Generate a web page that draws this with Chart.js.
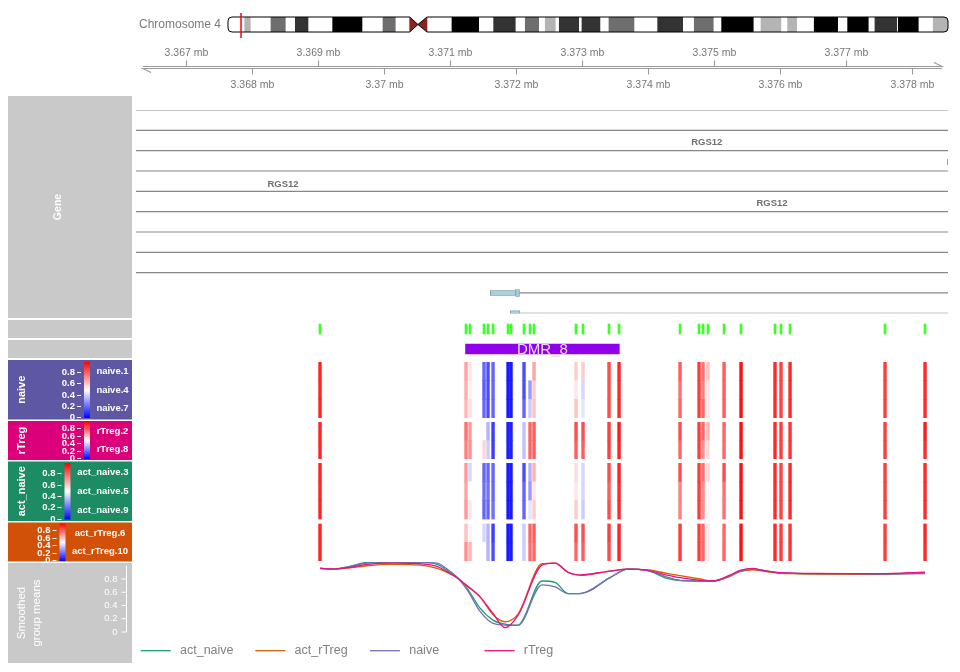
<!DOCTYPE html>
<html>
<head>
<meta charset="utf-8">
<title>DMR_8 RGS12</title>
<script src="https://cdn.jsdelivr.net/npm/chart.js@4.4.1/dist/chart.umd.min.js"></script>
<style>
html,body{margin:0;padding:0;background:#ffffff;}
#wrap{position:relative;width:960px;height:672px;overflow:hidden;background:#fff;}
#wrap canvas{position:absolute;left:0;display:block;}
</style>
</head>
<body>
<div id="wrap"></div>
<script>
// ================= DATA =================
const chromName = 'Chromosome 4';
const chromLengthMb = 191.154;
const bandStartMb = [0, 4.43, 5.92, 11.41, 15.21, 17.87, 21.24, 27.79, 35.57, 41.15, 44.41, 48.23, 50.43, 52.83, 59.46, 66.55, 70.53, 76.27, 78.92, 82.48, 84.23, 86.89, 87.95, 93.1, 93.98, 98.75, 101.14, 107.78, 114.07, 120.71, 123.79, 128.83, 131.06, 139.45, 141.5, 146.8, 148.58, 150.97, 155.64, 161.86, 164.51, 169.98, 171.76, 177.52, 177.95, 183.26, 187.23];
const bandStain = ['gneg','gpos25','gneg','gpos50','gneg','gpos75','gneg','gpos100','gneg','gpos50','gneg','acen','acen','gneg','gpos100','gneg','gpos75','gneg','gpos50','gneg','gpos25','gneg','gpos75','gneg','gpos75','gneg','gpos50','gneg','gpos75','gneg','gpos50','gneg','gpos100','gneg','gpos25','gneg','gpos25','gneg','gpos100','gneg','gpos100','gneg','gpos75','gneg','gpos100','gneg','gpos25'];
const bandEndMb = bandStartMb.slice(1).concat([chromLengthMb]);
const regionMb = [3.36624, 3.37855];

const viewFrom = 3366242, viewTo = 3378545;
const axisTicks = [3367000, 3368000, 3369000, 3370000, 3371000, 3372000, 3373000, 3374000, 3375000, 3376000, 3377000, 3378000];

// gene model (RGS12 transcripts)
const txRow   = [0, 1, 2, 3, 4, 5, 6, 7, 8, 9, 10];
const txStart = [3318000, 3318000, 3318000, 3318000, 3318000, 3318000, 3318000, 3318000, 3318000, 3371606, 3371909];
const txEnd   = [3441000, 3441000, 3441000, 3441000, 3441000, 3441000, 3441000, 3441000, 3441000, 3441000, 3441000];
const exonRow   = [9, 9, 10];
const exonStart = [3371606, 3371990, 3371909];
const exonEnd   = [3372000, 3372056, 3372061];
const exonType  = ['utr', 'cds', 'utr'];
const geneLabels   = ['RGS12', 'RGS12', 'RGS12', 'RGS12'];
const geneLabelPos = [3374889, 3378763, 3368470, 3375879];
const geneLabelRow = [1.6, 2.6, 3.65, 4.6];

// CpG sites
const cpgPos = [3369030, 3371242, 3371303, 3371515, 3371576, 3371652, 3371879, 3371924, 3372121, 3372212, 3372273, 3372909, 3373015, 3373409, 3373561, 3374485, 3374773, 3374833, 3374909, 3375152, 3375409, 3375924, 3376015, 3376152, 3377591, 3378197];

// DMR
const dmrName = 'DMR_8';
const dmrRange = [3371235, 3373565];

// methylation per sample (one value per CpG site)
const naiveSamples = ['naive.1', 'naive.4', 'naive.7'];
const meth_naive_1 = [0.93,0.68,0.55,0.20,0.15,0.20,0.05,0.05,0.15,0.50,0.68,0.60,0.60,0.85,0.92,0.82,0.88,0.78,0.62,0.82,0.97,0.92,0.87,0.92,0.88,0.92];
const meth_naive_4 = [0.93,0.66,0.53,0.18,0.15,0.20,0.05,0.05,0.15,0.30,0.60,0.55,0.42,0.85,0.92,0.78,0.88,0.75,0.55,0.82,0.97,0.92,0.87,0.92,0.88,0.92];
const meth_naive_7 = [0.93,0.64,0.56,0.20,0.15,0.20,0.05,0.05,0.20,0.40,0.62,0.62,0.45,0.85,0.92,0.80,0.88,0.80,0.55,0.82,0.97,0.92,0.87,0.92,0.88,0.92];
const rTregSamples = ['rTreg.2', 'rTreg.8'];
const meth_rTreg_2 = [0.93,0.78,0.70,0.50,0.35,0.12,0.06,0.06,0.38,0.80,0.82,0.85,0.85,0.88,0.95,0.85,0.88,0.80,0.65,0.80,0.97,0.92,0.88,0.90,0.88,0.95];
const meth_rTreg_8 = [0.93,0.75,0.72,0.58,0.40,0.12,0.06,0.06,0.38,0.80,0.82,0.82,0.82,0.88,0.93,0.80,0.88,0.72,0.57,0.80,0.97,0.92,0.88,0.90,0.88,0.92];
const actNaiveSamples = ['act_naive.3', 'act_naive.5', 'act_naive.9'];
const meth_act_naive_3 = [0.93,0.70,0.42,0.20,0.20,0.20,0.05,0.05,0.15,0.35,0.65,0.57,0.42,0.85,0.93,0.85,0.88,0.78,0.58,0.85,0.97,0.92,0.87,0.92,0.88,0.92];
const meth_act_naive_5 = [0.93,0.68,0.50,0.22,0.22,0.20,0.05,0.05,0.20,0.30,0.55,0.55,0.42,0.82,0.92,0.75,0.88,0.72,0.52,0.78,0.97,0.92,0.87,0.92,0.88,0.92];
const meth_act_naive_9 = [0.93,0.70,0.55,0.20,0.20,0.22,0.05,0.05,0.20,0.45,0.60,0.60,0.40,0.85,0.92,0.75,0.88,0.72,0.52,0.78,0.97,0.92,0.87,0.92,0.88,0.92];
const actRTregSamples = ['act_rTreg.6', 'act_rTreg.10'];
const meth_act_rTreg_6  = [0.93,0.62,0.52,0.42,0.35,0.12,0.05,0.05,0.40,0.80,0.82,0.85,0.85,0.88,0.93,0.88,0.88,0.80,0.55,0.80,0.97,0.92,0.88,0.90,0.88,0.93];
const meth_act_rTreg_10 = [0.93,0.72,0.65,0.50,0.35,0.15,0.05,0.05,0.40,0.78,0.80,0.80,0.82,0.85,0.93,0.88,0.88,0.80,0.55,0.80,0.97,0.92,0.88,0.90,0.88,0.92];
const colorbarTicks = [0, 0.2, 0.4, 0.6, 0.8];

// smoothed group means
const smoothGroups = ['act_naive', 'act_rTreg', 'naive', 'rTreg'];
const smoothPos = [3369030, 3369227, 3369485, 3369742, 3370136, 3370545, 3370803, 3370955, 3371106, 3371258, 3371455, 3371652, 3371833, 3372030, 3372394, 3372591, 3372788, 3372970, 3373424, 3373697, 3373985, 3374288, 3374485, 3374788, 3374985, 3375242, 3375394, 3375591, 3375742, 3375955, 3376197, 3376500, 3377106, 3377515, 3378197];
const smooth_act_naive = [0.96,0.95,0.99,1.05,1.05,1.05,1.02,0.93,0.82,0.66,0.36,0.18,0.12,0.105,0.77,0.75,0.58,0.58,0.82,0.95,0.93,0.81,0.775,0.77,0.77,0.85,0.92,0.95,0.93,0.895,0.885,0.88,0.88,0.875,0.89];
const smooth_act_rTreg = [0.96,0.95,0.97,1.00,1.02,1.01,0.96,0.90,0.82,0.69,0.53,0.26,0.155,0.27,1.03,1.04,0.90,0.86,0.92,0.95,0.94,0.885,0.85,0.80,0.77,0.84,0.91,0.94,0.92,0.89,0.88,0.875,0.87,0.87,0.90];
const smooth_naive     = [0.96,0.95,0.99,1.04,1.05,1.05,1.04,0.95,0.83,0.64,0.31,0.13,0.105,0.10,0.71,0.68,0.58,0.58,0.82,0.95,0.93,0.83,0.78,0.77,0.77,0.85,0.92,0.95,0.93,0.895,0.885,0.88,0.88,0.875,0.88];
const smooth_rTreg     = [0.96,0.95,0.975,1.02,1.04,1.03,0.99,0.91,0.82,0.70,0.53,0.28,0.065,0.25,1.01,1.04,0.90,0.86,0.92,0.95,0.93,0.86,0.82,0.78,0.77,0.86,0.93,0.96,0.93,0.90,0.89,0.885,0.88,0.88,0.905];
const smoothTicks = [0, 0.2, 0.4, 0.6, 0.8];

// ================= STYLE / HELPERS =================
const FONT = '"Liberation Sans", Arial, Helvetica, sans-serif';
const GREY_PANEL = '#c9c9c9';
const groupColor = {act_naive: '#1b9e77', act_rTreg: '#d95f02', naive: '#7570b3', rTreg: '#e8108a'};
const stainColor = {gpos25: '#b4b4b4', gpos50: '#6e6e6e', gpos75: '#333333', gpos100: '#000000', acen: '#8b2323'};
const wrap = document.getElementById('wrap');
Chart.defaults.font.family = FONT;

function addChart(top, height, config) {
  const cv = document.createElement('canvas');
  cv.width = 960; cv.height = height;
  cv.style.top = top + 'px';
  cv.style.width = '960px'; cv.style.height = height + 'px';
  wrap.appendChild(cv);
  const o = config.options || {};
  o.responsive = false; o.maintainAspectRatio = false; o.animation = false;
  o.devicePixelRatio = 1; o.events = [];
  o.plugins = Object.assign({legend: {display: false}, tooltip: {enabled: false}}, o.plugins || {});
  config.options = o;
  return new Chart(cv.getContext('2d'), config);
}
function fillPanel(ctx, color, x0, y0, x1, y1) {
  ctx.save(); ctx.fillStyle = color; ctx.fillRect(x0, y0, x1 - x0, y1 - y0); ctx.restore();
}
function vText(ctx, text, x, y, font, color) {
  ctx.save(); ctx.translate(x, y); ctx.rotate(-Math.PI / 2);
  ctx.font = font; ctx.fillStyle = color; ctx.textAlign = 'center'; ctx.textBaseline = 'middle';
  ctx.fillText(text, 0, 0); ctx.restore();
}
function methColor(v) {
  v = Math.max(0, Math.min(1, v));
  let r, g, b;
  if (v < 0.5) { const t = v / 0.5; r = Math.round(255 * t); g = r; b = 255; }
  else { const t = (v - 0.5) / 0.5; r = 255; g = Math.round(255 * (1 - t)); b = g; }
  return 'rgb(' + r + ',' + g + ',' + b + ')';
}
const xGenome = {type: 'linear', min: viewFrom, max: viewTo, display: false, offset: false};
const PAD_L = 136, PAD_R = 12;

// ================= 1. IDEOGRAM =================
function ideoPath(chart) {
  const ctx = chart.ctx, xs = chart.scales.x, ca = chart.chartArea;
  const x0 = xs.getPixelForValue(0), x1 = xs.getPixelForValue(chromLengthMb);
  let cL = null, cR = null;
  bandStain.forEach((s, i) => { if (s === 'acen') { if (cL === null) cL = bandStartMb[i]; cR = bandEndMb[i]; } });
  const cM = bandEndMb[bandStain.indexOf('acen')];
  const pL = xs.getPixelForValue(cL), pR = xs.getPixelForValue(cR), pM = xs.getPixelForValue(cM);
  const t = ca.top, b = ca.bottom, m = (t + b) / 2, r = 4;
  ctx.beginPath();
  ctx.moveTo(x0 + r, t); ctx.lineTo(pL, t); ctx.lineTo(pM, m); ctx.lineTo(pR, t);
  ctx.lineTo(x1 - r, t); ctx.arcTo(x1, t, x1, t + r, r); ctx.lineTo(x1, b - r); ctx.arcTo(x1, b, x1 - r, b, r);
  ctx.lineTo(pR, b); ctx.lineTo(pM, m); ctx.lineTo(pL, b);
  ctx.lineTo(x0 + r, b); ctx.arcTo(x0, b, x0, b - r, r); ctx.lineTo(x0, t + r); ctx.arcTo(x0, t, x0 + r, t, r);
  ctx.closePath();
}
const ideoPlugin = {
  id: 'ideo',
  beforeDatasetsDraw(chart) {
    const ctx = chart.ctx; ctx.save(); ideoPath(chart); ctx.fillStyle = '#ffffff'; ctx.fill(); ctx.clip();
  },
  afterDatasetsDraw(chart) {
    const ctx = chart.ctx, xs = chart.scales.x, ca = chart.chartArea;
    ctx.restore();
    ctx.save();
    ideoPath(chart); ctx.strokeStyle = '#000000'; ctx.lineWidth = 1; ctx.stroke();
    const a = xs.getPixelForValue(regionMb[0]), b = xs.getPixelForValue(regionMb[1]);
    ctx.fillStyle = '#ff0000';
    ctx.fillRect(a - 0.4, ca.top - 4, Math.max(1.5, b - a), (ca.bottom - ca.top) + 10);
    ctx.font = '12px ' + FONT; ctx.fillStyle = '#7a7a7a'; ctx.textAlign = 'right'; ctx.textBaseline = 'middle';
    ctx.fillText(chromName, 221, (ca.top + ca.bottom) / 2);
    ctx.restore();
  }
};
const ideoDatasets = [];
bandStain.forEach((s, i) => {
  if (s === 'gneg') return;
  ideoDatasets.push({data: [[bandStartMb[i], bandEndMb[i]]], backgroundColor: stainColor[s], borderWidth: 0});
});
addChart(0, 42, {
  type: 'bar',
  data: {labels: ['chr4'], datasets: ideoDatasets},
  options: {
    indexAxis: 'y',
    layout: {padding: {left: 228, right: 12, top: 17, bottom: 10}},
    datasets: {bar: {grouped: false, barPercentage: 1, categoryPercentage: 1}},
    scales: {x: {type: 'linear', min: 0, max: chromLengthMb, display: false}, y: {display: false}}
  },
  plugins: [ideoPlugin]
});

// ================= 2. GENOME AXIS =================
const axisPlugin = {
  id: 'gaxis',
  afterDraw(chart) {
    const ctx = chart.ctx, xs = chart.scales.x, ca = chart.chartArea;
    const yA = 24.5, yB = 26.5;
    ctx.save();
    ctx.strokeStyle = '#9a9a9a'; ctx.lineWidth = 1.1;
    const l = ca.left + 7, r = ca.right - 6;
    ctx.beginPath();
    ctx.moveTo(l, yA); ctx.lineTo(r, yA); ctx.lineTo(r - 8, yA - 4);
    ctx.moveTo(r, yB); ctx.lineTo(l, yB); ctx.lineTo(l + 8, yB + 4);
    ctx.stroke();
    ctx.font = '10.5px ' + FONT; ctx.fillStyle = '#777777'; ctx.textAlign = 'center'; ctx.textBaseline = 'middle';
    axisTicks.forEach(v => {
      const px = Math.round(xs.getPixelForValue(v)) + 0.5;
      const lab = (+(v / 1e6).toFixed(3)) + ' mb';
      const odd = Math.round(v / 1000) % 2 === 1;
      ctx.beginPath();
      if (odd) { ctx.moveTo(px, yA); ctx.lineTo(px, yA - 6); ctx.stroke(); ctx.fillText(lab, px, 11.5); }
      else { ctx.moveTo(px, yB); ctx.lineTo(px, yB + 6); ctx.stroke(); ctx.fillText(lab, px, 43); }
    });
    ctx.restore();
  }
};
addChart(42, 54, {
  type: 'scatter',
  data: {datasets: []},
  options: {layout: {padding: {left: PAD_L, right: PAD_R, top: 0, bottom: 0}}, scales: {x: xGenome, y: {display: false, min: 0, max: 1}}},
  plugins: [axisPlugin]
});

// ================= 3. GENE TRACK =================
const genePlugin = {
  id: 'gene',
  beforeDraw(chart) {
    const ctx = chart.ctx;
    fillPanel(ctx, GREY_PANEL, 8, 0, 132, 222);
    vText(ctx, 'Gene', 58, 111, 'bold 10.5px ' + FONT, '#ffffff');
  },
  afterDatasetsDraw(chart) {
    const ctx = chart.ctx, xs = chart.scales.x, ys = chart.scales.y, ca = chart.chartArea;
    ctx.save();
    ctx.beginPath(); ctx.rect(ca.left, 0, ca.right - ca.left, chart.height); ctx.clip();
    ctx.font = 'bold 9.5px ' + FONT; ctx.fillStyle = '#6f6f6f'; ctx.textAlign = 'center'; ctx.textBaseline = 'middle';
    geneLabels.forEach((t, i) => ctx.fillText(t, xs.getPixelForValue(geneLabelPos[i]), ys.getPixelForValue(geneLabelRow[i])));
    ctx.restore();
  }
};
const geneDatasets = [];
txRow.forEach((row, i) => geneDatasets.push({
  data: [{x: txStart[i], y: row}, {x: txEnd[i], y: row}], borderColor: '#878787', borderWidth: 1.2, pointRadius: 0, order: 3
}));
const exonH = {utr: 4, cds: 6};
exonRow.forEach((row, i) => {
  const h = exonH[exonType[i]];
  geneDatasets.push({data: [{x: exonStart[i], y: row}, {x: exonEnd[i], y: row}], borderColor: '#8aa3ad', borderWidth: h + 1.6, borderCapStyle: 'butt', pointRadius: 0, order: 2});
  geneDatasets.push({data: [{x: exonStart[i] + 15, y: row}, {x: exonEnd[i] - 15, y: row}], borderColor: '#a9d0de', borderWidth: h, borderCapStyle: 'butt', pointRadius: 0, order: 1});
});
addChart(96, 223, {
  type: 'line',
  data: {datasets: geneDatasets},
  options: {
    layout: {padding: {left: PAD_L, right: PAD_R, top: 14, bottom: 5.7}},
    scales: {x: xGenome, y: {type: 'linear', min: 0, max: 10, reverse: true, display: false}}
  },
  plugins: [genePlugin]
});

// ================= 4. CpG TRACK =================
addChart(319, 20, {
  type: 'bar',
  data: {datasets: [{data: cpgPos.map(p => ({x: p, y: [-0.5, 0.5]})), backgroundColor: '#3cff28', borderWidth: 0, barThickness: 2}]},
  options: {
    layout: {padding: {left: PAD_L, right: PAD_R, top: 0, bottom: 0}},
    scales: {x: xGenome, y: {type: 'linear', min: -1, max: 1, display: false}}
  },
  plugins: [{id: 'cpgPanel', beforeDraw(chart) { fillPanel(chart.ctx, GREY_PANEL, 8, 1, 132, 19); }}]
});

// ================= 5. DMR TRACK =================
addChart(339, 20, {
  type: 'bar',
  data: {labels: [dmrName], datasets: [{data: [dmrRange], backgroundColor: '#9000ea', borderWidth: 0, barThickness: 10}]},
  options: {
    indexAxis: 'y',
    layout: {padding: {left: PAD_L, right: PAD_R, top: 0, bottom: 0}},
    scales: {x: xGenome, y: {display: false}}
  },
  plugins: [{
    id: 'dmrPanel',
    beforeDraw(chart) { fillPanel(chart.ctx, GREY_PANEL, 8, 1, 132, 19); },
    afterDatasetsDraw(chart) {
      const ctx = chart.ctx, xs = chart.scales.x, ys = chart.scales.y;
      ctx.save(); ctx.font = '15px ' + FONT; ctx.fillStyle = '#eadcff'; ctx.textAlign = 'center'; ctx.textBaseline = 'middle';
      ctx.fillText(dmrName, xs.getPixelForValue((dmrRange[0] + dmrRange[1]) / 2), ys.getPixelForValue(0) + 1);
      ctx.restore();
    }
  }]
});

// ================= 6-9. HEATMAPS =================
function heatTrack(top, height, padT, padB, panelY, title, samples, rows, panelColor, cbX, labelCX) {
  const datasets = cpgPos.map((p, j) => ({
    data: samples.map(() => [p - 21, p + 21]),
    backgroundColor: rows.map(r => methColor(r[j])),
    borderWidth: 0
  }));
  const plugin = {
    id: 'heatPanel',
    beforeDraw(chart) {
      const ctx = chart.ctx, ys = chart.scales.y, ca = chart.chartArea;
      fillPanel(ctx, panelColor, 8, panelY[0], 132, panelY[1]);
      const yb = ca.bottom, yt = ca.top;
      const cbPix = v => yb + (yt - yb) * v;
      const g = ctx.createLinearGradient(0, yb, 0, yt);
      g.addColorStop(0, '#0000ff'); g.addColorStop(0.5, '#ffffff'); g.addColorStop(1, '#ff0000');
      ctx.save();
      ctx.fillStyle = g; ctx.fillRect(cbX, yt, 6, yb - yt);
      ctx.strokeStyle = '#ffffff'; ctx.lineWidth = 1;
      ctx.font = 'bold 9.5px ' + FONT; ctx.fillStyle = '#ffffff'; ctx.textAlign = 'right'; ctx.textBaseline = 'middle';
      colorbarTicks.forEach(v => {
        const y = Math.round(cbPix(v)) - 0.5;
        ctx.beginPath(); ctx.moveTo(cbX - 7, y); ctx.lineTo(cbX - 3, y); ctx.stroke();
        ctx.fillText(String(v), cbX - 9, y);
      });
      ctx.textAlign = 'center';
      samples.forEach((s, i) => ctx.fillText(s, labelCX, ys.getPixelForValue(i)));
      ctx.restore();
      if (title) vText(ctx, title, 21.7, (panelY[0] + panelY[1]) / 2, 'bold 11px ' + FONT, '#ffffff');
    }
  };
  addChart(top, height, {
    type: 'bar',
    data: {labels: samples, datasets},
    options: {
      indexAxis: 'y',
      layout: {padding: {left: PAD_L, right: PAD_R, top: padT, bottom: padB}},
      datasets: {bar: {grouped: false, barPercentage: 1, categoryPercentage: 1}},
      scales: {x: xGenome, y: {type: 'category', display: false}}
    },
    plugins: [plugin]
  });
}
heatTrack(360, 60, 2, 2, [0, 59.5], 'naive', naiveSamples, [meth_naive_1, meth_naive_4, meth_naive_7], '#5e57a3', 84, 112.5);
heatTrack(420, 41, 2, 2, [1, 40], 'rTreg', rTregSamples, [meth_rTreg_2, meth_rTreg_8], '#db0079', 84, 112.5);
heatTrack(461, 61, 2, 2.5, [0.5, 60], 'act_naive', actNaiveSamples, [meth_act_naive_3, meth_act_naive_5, meth_act_naive_9], '#1d8b63', 64.5, 102.8);
heatTrack(522, 41, 1.5, 2, [0.5, 39.5], null, actRTregSamples, [meth_act_rTreg_6, meth_act_rTreg_10], '#d25109', 59.5, 100);

// ================= 10. SMOOTHED GROUP MEANS =================
const smoothSeries = {act_naive: smooth_act_naive, act_rTreg: smooth_act_rTreg, naive: smooth_naive, rTreg: smooth_rTreg};
const smoothOrder = {act_naive: 3, act_rTreg: 2, naive: 1, rTreg: 0};
const smoothPlugin = {
  id: 'smoothPanel',
  beforeDraw(chart) {
    const ctx = chart.ctx, ys = chart.scales.y;
    fillPanel(ctx, GREY_PANEL, 8, 1, 132, 101);
    vText(ctx, 'Smoothed', 21.7, 51, '11.5px ' + FONT, '#ffffff');
    vText(ctx, 'group means', 36.5, 51, '11.5px ' + FONT, '#ffffff');
    ctx.save();
    ctx.strokeStyle = '#ffffff'; ctx.lineWidth = 1;
    const ax = 126.5;
    ctx.beginPath(); ctx.moveTo(ax, ys.getPixelForValue(0)); ctx.lineTo(ax, ys.getPixelForValue(1)); ctx.stroke();
    ctx.font = '9.5px ' + FONT; ctx.fillStyle = '#ffffff'; ctx.textAlign = 'right'; ctx.textBaseline = 'middle';
    smoothTicks.forEach(v => {
      const y = ys.getPixelForValue(v);
      ctx.beginPath(); ctx.moveTo(ax - 5, y); ctx.lineTo(ax, y); ctx.stroke();
      ctx.fillText(String(v), ax - 9, y);
    });
    ctx.restore();
  },
  afterDraw(chart) {
    const ctx = chart.ctx;
    ctx.save();
    ctx.font = '12.5px ' + FONT; ctx.textAlign = 'left'; ctx.textBaseline = 'middle';
    chart.data.datasets.forEach((ds, i) => {
      const x = 140.7 + i * 114.6, y = 88.7;
      ctx.strokeStyle = ds.borderColor; ctx.lineWidth = 1.3;
      ctx.beginPath(); ctx.moveTo(x, y); ctx.lineTo(x + 30, y); ctx.stroke();
      ctx.fillStyle = '#808080'; ctx.fillText(ds.label, x + 39.3, y);
    });
    ctx.restore();
  }
};
addChart(562, 110, {
  type: 'line',
  data: {datasets: smoothGroups.map(g => ({
    label: g,
    data: smoothPos.map((p, i) => ({x: p, y: smoothSeries[g][i]})),
    borderColor: groupColor[g], borderWidth: 1.3, pointRadius: 0,
    cubicInterpolationMode: 'monotone', clip: false, order: smoothOrder[g]
  }))},
  options: {
    layout: {padding: {left: PAD_L, right: PAD_R, top: 3.75, bottom: 40}},
    scales: {x: xGenome, y: {type: 'linear', min: 0, max: 1, display: false}}
  },
  plugins: [smoothPlugin]
});
</script>
</body>
</html>
